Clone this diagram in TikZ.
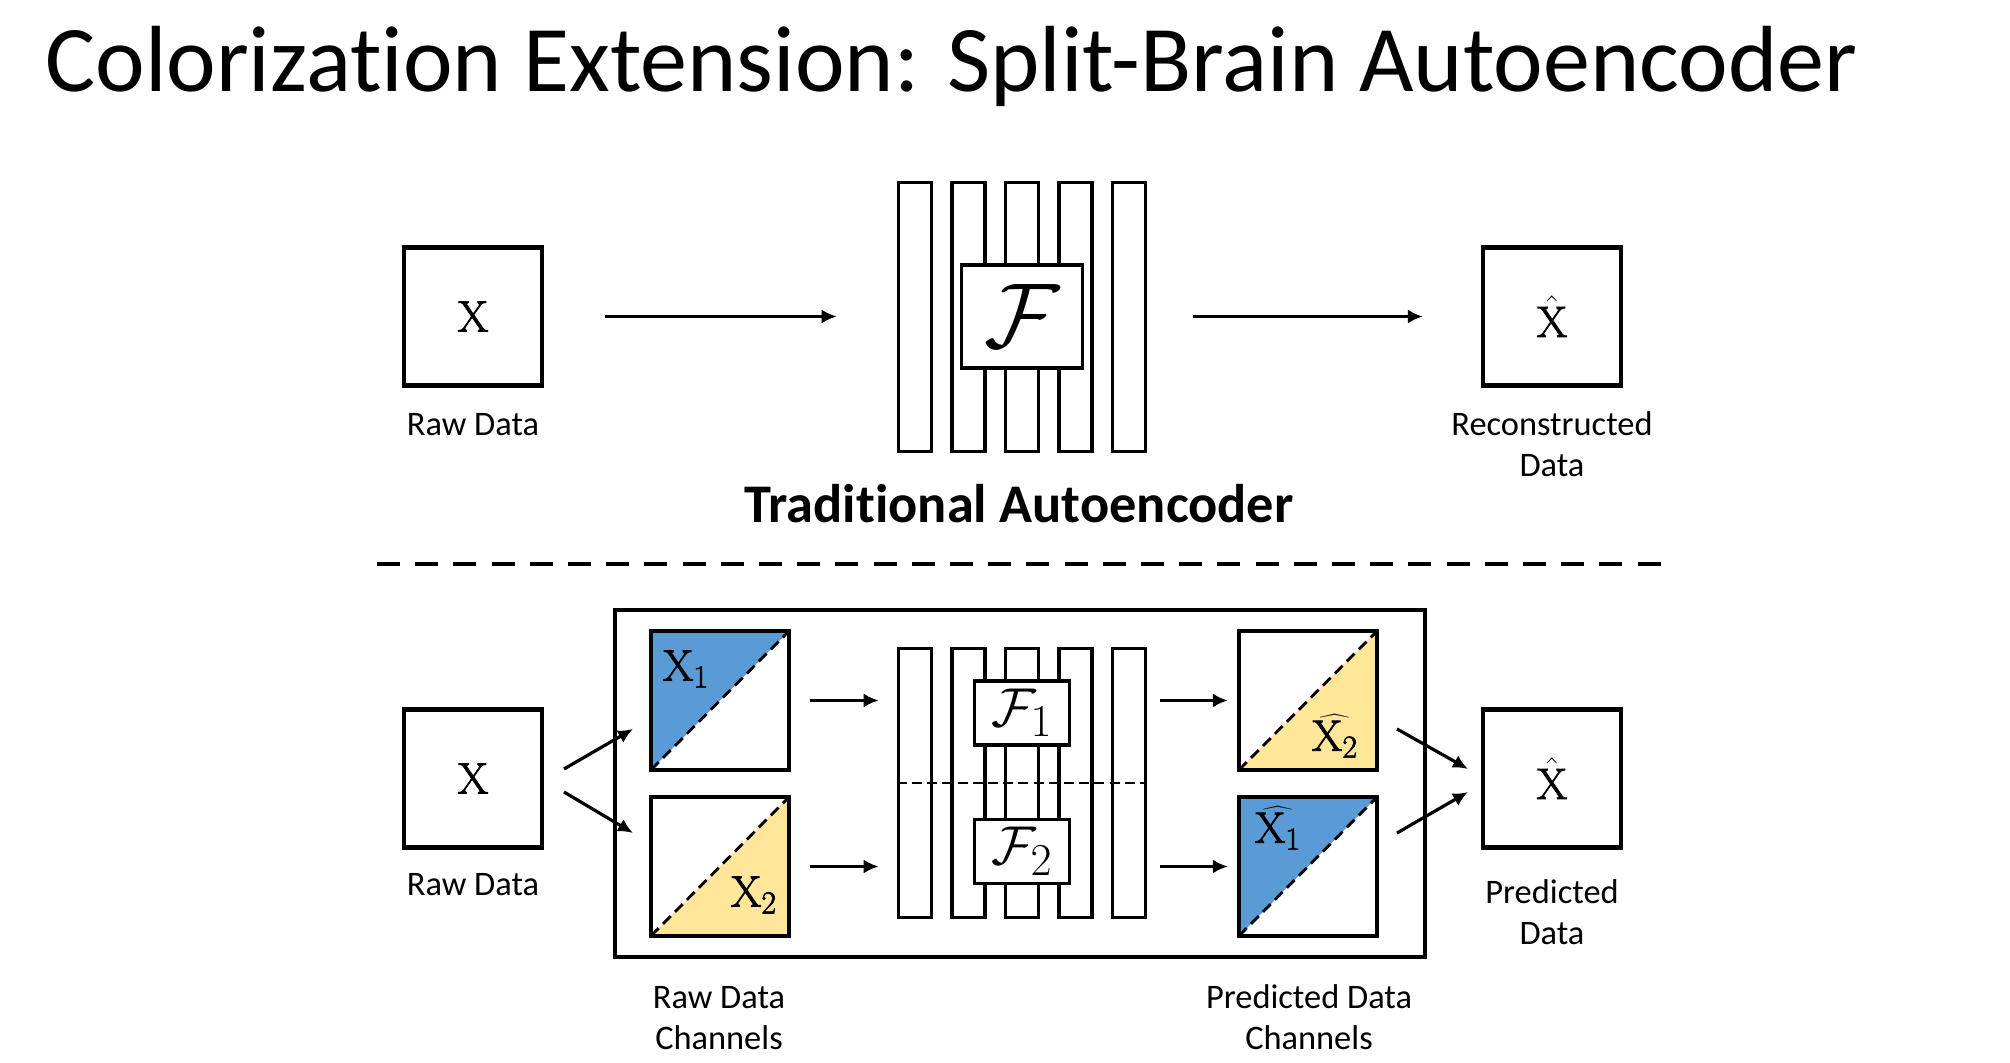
\documentclass[tikz,border=0pt]{standalone}
\usepackage{graphicx}
\usepackage[no-math]{fontspec}
\setmainfont{Carlito}[Ligatures=NoCommon]
\newfontfamily\xf{Latin Modern Roman}[FakeBold=2]
\usetikzlibrary{arrows.meta,calc}
\definecolor{cblue}{HTML}{5B9BD5}
\definecolor{cyel}{HTML}{FFE699}
\newcommand{\bigX}{\hbox{\xf X}}
\newcommand{\subn}[1]{\hbox{\xf\fontsize{16}{18}\selectfont #1}}
\begin{document}
\begin{tikzpicture}[x=0.5pt,y=-0.5pt,
  box/.style={draw,line width=2.1pt,minimum width=69pt,minimum height=69pt,inner sep=0pt},
  bigbox/.style={draw,line width=2.1pt,inner sep=0pt},
  bar/.style={draw,line width=1.8pt,minimum width=16.5pt,minimum height=134.5pt,inner sep=0pt},
  fbox/.style={draw,fill=white,line width=1.9pt,inner sep=0pt},
  arr/.style={line width=1.6pt,-{Latex[length=7.5pt,width=7pt]}},
  lab/.style={font=\fontsize{17.2}{20.5}\selectfont,align=center,anchor=base,inner sep=0pt},
  mx/.style={font=\fontsize{22}{26}\selectfont,inner sep=0pt},
  diag/.style={line width=1.4pt,dash pattern=on 5.5pt off 3pt},
  bluetri/.style={path picture={
    \fill[cblue] (path picture bounding box.north west) -- (path picture bounding box.north east) -- (path picture bounding box.south west) -- cycle;
    \draw[diag] (path picture bounding box.south west) -- (path picture bounding box.north east);}},
  yeltri/.style={path picture={
    \fill[cyel] (path picture bounding box.north east) -- (path picture bounding box.south east) -- (path picture bounding box.south west) -- cycle;
    \draw[diag] (path picture bounding box.south west) -- (path picture bounding box.north east);}}
]
\path[use as bounding box] (0,0) rectangle (2010,1063);

% title
\node[anchor=base west,inner sep=0pt,font=\fontsize{47}{56}\selectfont] (title) at (45,92) {Colorization Extension: Split-Brain Autoencoder};

% ---------- top: traditional autoencoder ----------
\node[box] (xa) at (473,316.5) {};
\node[mx] (xat) at (xa.center) {$\bigX$};
\node[lab] (xal) at (473,436) {Raw Data};

\foreach \i/\cx in {1/915,2/968.5,3/1022,4/1075.5,5/1129}{
  \node[bar] (bara\i) at (\cx,317) {};
}
\node[fbox,minimum width=60.5pt,minimum height=51.5pt] (fa) at (1022,316.5) {};
\node[inner sep=0pt,font=\fontsize{24.88}{30}\selectfont] (fat) at (fa.center) {\scalebox{1.85}{$\mathcal{F}$}};

\node[box] (xha) at (1552,316.5) {};
\node[mx] (xhat) at (xha.center) {$\hat{\bigX}$};
\node[lab] (xhal) at (1552,477) {Reconstructed\\Data};

\draw[arr,shorten <=30.5pt,shorten >=30pt] (xa.east) -- (xa.east -| bara1.west);
\draw[arr,shorten <=23pt,shorten >=29pt] (bara5.east |- xha.west) -- (xha.west);

\node[anchor=base,inner sep=0pt,font=\fontsize{27.2}{32}\selectfont\bfseries] (trad) at (1019,523) {Traditional Autoencoder};

% separator
\coordinate (sepL) at (377,564);
\coordinate (sepR) at (1669,564);
\draw[line width=2pt,dash pattern=on 11.5pt off 7.6pt] (sepL) -- (sepR);

% ---------- bottom: split-brain autoencoder ----------
\node[bigbox,minimum width=405pt,minimum height=173.5pt] (outer) at (1020,783.5) {};

\node[box] (xb) at (473,778.5) {};
\node[mx] (xbt) at (xb.center) {$\bigX$};
\node[lab] (xbl) at (473,896) {Raw Data};

\node[box,minimum height=69.5pt,bluetri] (tl) at (720,700.5) {};
\node[box,minimum height=69.5pt,yeltri] (bl) at (720,866.5) {};
\node[mx] (tlt) at (686,669) {$\bigX_{\subn{1}}$};
\node[mx] (blt) at (754,895) {$\bigX_{\subn{2}}$};

\foreach \i/\cx in {1/915,2/968.5,3/1022,4/1075.5,5/1129}{
  \node[bar] (barb\i) at (\cx,783) {};
}
\coordinate (midL) at (barb1.west |- 0,783);
\coordinate (midR) at (barb5.east |- 0,783);
\draw[line width=1.4pt,dash pattern=on 5pt off 2.6pt] (midL) -- (midR);
\node[fbox,minimum width=47.5pt,minimum height=32pt] (f1) at (1022,713) {};
\node[fbox,minimum width=47.5pt,minimum height=32pt] (f2) at (1022,851.5) {};
\node[inner sep=0pt,font=\fontsize{24.88}{30}\selectfont] (f1t) at (f1.center) {\scalebox{1.1}{$\mathcal{F}_1$}};
\node[inner sep=0pt,font=\fontsize{24.88}{30}\selectfont] (f2t) at (f2.center) {\scalebox{1.1}{$\mathcal{F}_2$}};

\node[box,minimum height=69.5pt,yeltri] (tr) at (1308,700.5) {};
\node[box,minimum height=69.5pt,bluetri] (br) at (1308,866.5) {};
\node[mx] (trt) at (1335,736) {$\widehat{\bigX_{\subn{2}}}$};
\node[mx] (brt) at (1278,828) {$\widehat{\bigX_{\subn{1}}}$};

\node[box] (xhb) at (1552,778.5) {};
\node[mx] (xhbt) at (xhb.center) {$\hat{\bigX}$};
\node[lab] (xhbl) at (1552,944) {Predicted\\Data};

\node[lab] (rdc) at (719,1049) {Raw Data\\Channels};
\node[lab] (pdc) at (1309,1049) {Predicted Data\\Channels};

% arrows
\coordinate (s1) at (564,769); \coordinate (e1) at (633,729);
\coordinate (s2) at (564,792); \coordinate (e2) at (633,833);
\draw[arr] (s1) -- (e1);
\draw[arr] (s2) -- (e2);
\draw[arr,shorten <=9.5pt,shorten >=9pt] (tl.east) -- (tl.east -| barb1.west);
\draw[arr,shorten <=9.5pt,shorten >=9pt] (bl.east) -- (bl.east -| barb1.west);
\draw[arr,shorten <=6.5pt,shorten >=4.5pt] (barb5.east |- tr.west) -- (tr.west);
\draw[arr,shorten <=6.5pt,shorten >=4.5pt] (barb5.east |- br.west) -- (br.west);
\coordinate (s3) at (1397,729); \coordinate (e3) at (1468,769);
\coordinate (s4) at (1397,833); \coordinate (e4) at (1468,792);
\draw[arr] (s3) -- (e3);
\draw[arr] (s4) -- (e4);
\end{tikzpicture}
\end{document}
